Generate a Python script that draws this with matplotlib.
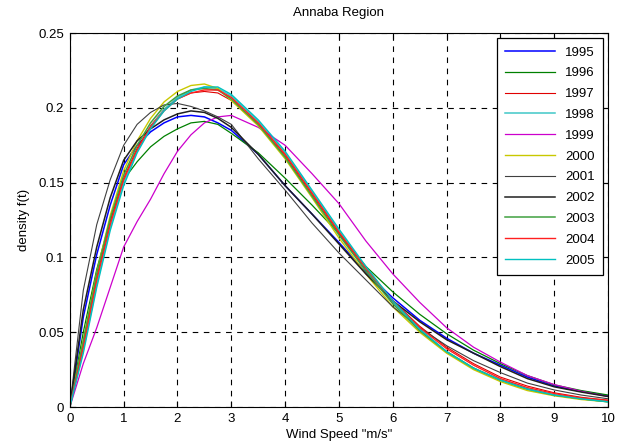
import matplotlib
matplotlib.use("Agg")
import matplotlib.pyplot as plt

# vitesse du vent (m/s)
vitesse = [0, 0.25, 0.5, 0.75, 1, 1.25, 1.5, 1.75, 2, 2.25, 2.5, 2.75, 3, 3.5,
           4, 4.5, 5, 5.5, 6, 6.5, 7, 7.5, 8, 8.5, 9, 9.5, 10]

annees = ['1995', '1996', '1997', '1998', '1999', '2000',
          '2001', '2002', '2003', '2004', '2005']

# densite f(t) par annee
d1995 = [0, 0.060, 0.102, 0.135, 0.162, 0.175, 0.184, 0.190, 0.194, 0.195, 0.194, 0.190, 0.185, 0.169,
         0.148, 0.129, 0.110, 0.090, 0.073, 0.058, 0.046, 0.036, 0.028, 0.020, 0.014, 0.0105, 0.0075]
d1996 = [0, 0.050, 0.092, 0.125, 0.152, 0.164, 0.174, 0.181, 0.186, 0.190, 0.191, 0.189, 0.183, 0.170,
         0.153, 0.135, 0.116, 0.094, 0.077, 0.062, 0.049, 0.038, 0.029, 0.021, 0.0148, 0.011, 0.008]
d1997 = [0, 0.042, 0.087, 0.124, 0.153, 0.173, 0.188, 0.199, 0.206, 0.210, 0.211, 0.210, 0.205, 0.189,
         0.168, 0.142, 0.116, 0.092, 0.071, 0.054, 0.040, 0.029, 0.020, 0.014, 0.0095, 0.0065, 0.0045]
d1998 = [0, 0.038, 0.082, 0.120, 0.150, 0.171, 0.187, 0.199, 0.207, 0.212, 0.214, 0.213, 0.208, 0.191,
         0.170, 0.144, 0.118, 0.093, 0.070, 0.052, 0.037, 0.026, 0.018, 0.012, 0.008, 0.0055, 0.0035]
d1999 = [0, 0.029, 0.053, 0.080, 0.107, 0.124, 0.139, 0.156, 0.171, 0.182, 0.190, 0.194, 0.195, 0.187,
         0.175, 0.156, 0.136, 0.111, 0.089, 0.070, 0.053, 0.040, 0.030, 0.021, 0.015, 0.0105, 0.007]
d2000 = [0, 0.045, 0.090, 0.128, 0.158, 0.178, 0.193, 0.204, 0.211, 0.215, 0.216, 0.213, 0.205, 0.188,
         0.166, 0.140, 0.113, 0.089, 0.067, 0.050, 0.036, 0.025, 0.017, 0.011, 0.0075, 0.005, 0.0035]
d2001 = [0, 0.078, 0.122, 0.152, 0.175, 0.189, 0.197, 0.202, 0.203, 0.201, 0.198, 0.194, 0.189, 0.166,
         0.145, 0.123, 0.103, 0.085, 0.067, 0.053, 0.041, 0.031, 0.023, 0.016, 0.0114, 0.008, 0.0055]
d2002 = [0, 0.065, 0.107, 0.140, 0.165, 0.178, 0.186, 0.192, 0.196, 0.198, 0.197, 0.193, 0.187, 0.169,
         0.148, 0.129, 0.109, 0.089, 0.071, 0.057, 0.045, 0.036, 0.027, 0.019, 0.0135, 0.010, 0.007]
d2003 = [0, 0.044, 0.089, 0.126, 0.155, 0.175, 0.190, 0.201, 0.208, 0.212, 0.213, 0.212, 0.206, 0.189,
         0.167, 0.141, 0.115, 0.091, 0.069, 0.051, 0.037, 0.026, 0.018, 0.012, 0.008, 0.0055, 0.0035]
d2004 = [0, 0.040, 0.085, 0.122, 0.152, 0.172, 0.187, 0.198, 0.206, 0.210, 0.212, 0.212, 0.207, 0.190,
         0.169, 0.143, 0.117, 0.093, 0.071, 0.053, 0.039, 0.028, 0.019, 0.013, 0.009, 0.006, 0.0045]
d2005 = [0, 0.036, 0.080, 0.118, 0.148, 0.170, 0.186, 0.198, 0.206, 0.211, 0.214, 0.214, 0.209, 0.192,
         0.171, 0.145, 0.119, 0.094, 0.071, 0.052, 0.037, 0.026, 0.018, 0.012, 0.008, 0.0055, 0.0035]

densites = [d1995, d1996, d1997, d1998, d1999, d2000, d2001, d2002, d2003, d2004, d2005]
couleurs = ['#0000ff', '#008000', '#e00000', '#40c8c8', '#cc00cc', '#c8c800',
            '#404040', '#202020', '#40a040', '#ff2020', '#00c0c0']
epaisseurs = [1.1, 0.9, 0.8, 1.1, 0.9, 1.0, 0.8, 1.1, 1.1, 1.0, 1.0]

plt.rcParams['font.family'] = ['Liberation Sans', 'DejaVu Sans']

fig = plt.figure(figsize=(6.18, 4.48), dpi=100)
ax = fig.add_axes([0.113, 0.0915, 0.871, 0.8345])

for an, d, c, lw in zip(annees, densites, couleurs, epaisseurs):
    ax.plot(vitesse, d, color=c, linewidth=lw, label=an)

ax.set_xlim(0, 10)
ax.set_ylim(0, 0.25)
ax.set_xticks(range(0, 11))
ax.set_yticks([0, 0.05, 0.1, 0.15, 0.2, 0.25])
ax.set_yticklabels(['0', '0.05', '0.1', '0.15', '0.2', '0.25'])
ax.tick_params(direction='in', labelsize=9.5, length=4, top=True, right=True, pad=4)
ax.grid(True, color='black', linestyle=(0, (5, 5)), linewidth=0.8)
for s in ax.spines.values():
    s.set_linewidth(0.8)

ax.set_title('Annaba Region', fontsize=9.5, pad=12)
ax.set_xlabel('Wind Speed "m/s"', fontsize=9.5, labelpad=3)
ax.set_ylabel('density f(t)', fontsize=9.5, labelpad=6)

leg = ax.legend(loc='upper right', fontsize=9.5, handlelength=3.8, fancybox=False,
                framealpha=1, edgecolor='black', borderaxespad=0.4, labelspacing=0.65,
                borderpad=0.6)
leg.get_frame().set_linewidth(0.9)

plt.savefig('out.png', dpi=100)
